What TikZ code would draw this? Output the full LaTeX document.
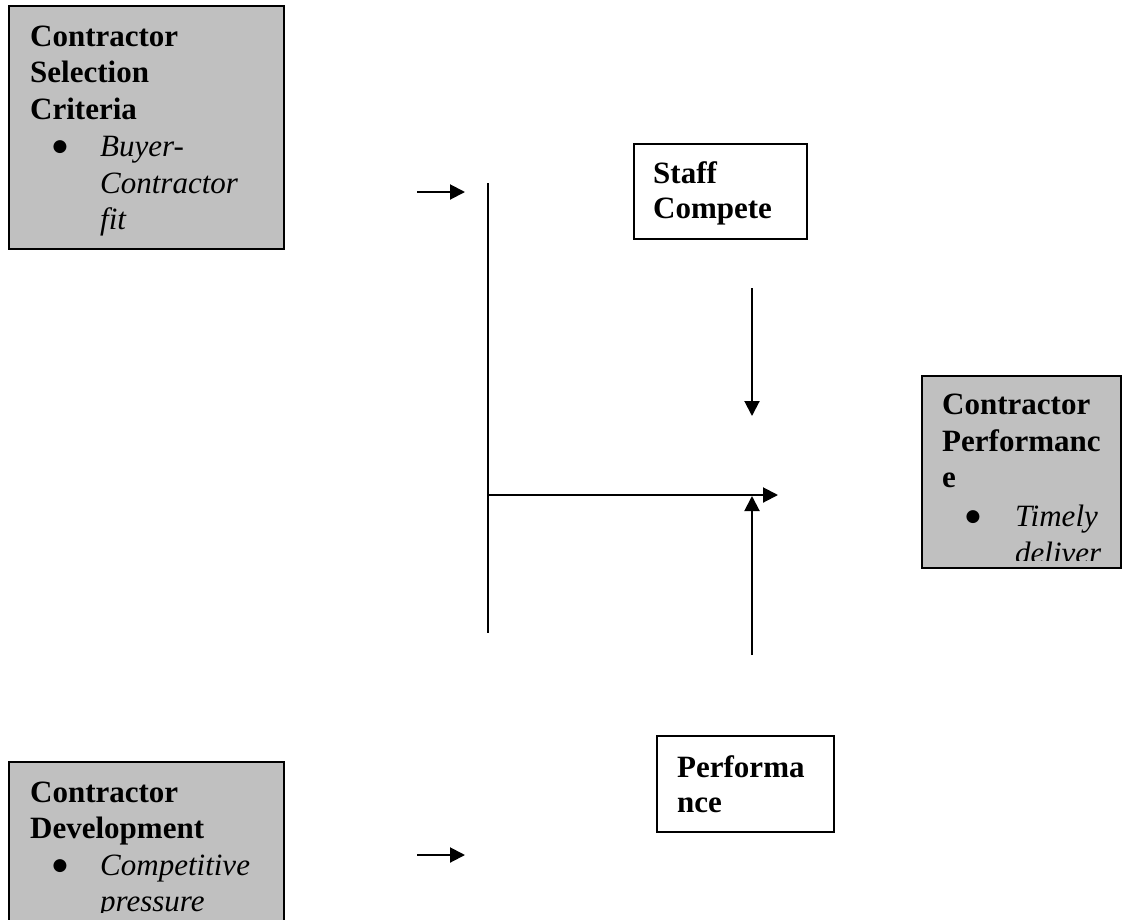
\documentclass[tikz,border=0pt]{standalone}
\usepackage{fontspec}
\setmainfont{Liberation Serif}
\newfontfamily\bulletfont{DejaVu Sans}
\usetikzlibrary{arrows.meta}
\definecolor{boxgrey}{RGB}{192,192,192}
\tikzset{
  greybox/.style={draw=black, line width=2pt, fill=boxgrey, anchor=north west, inner sep=0pt},
  whitebox/.style={draw=black, line width=2pt, fill=white, anchor=north west, inner sep=0pt},
  ttl/.style={anchor=base west, inner sep=0pt, font=\fontsize{31}{36}\selectfont\bfseries},
  itm/.style={anchor=base west, inner sep=0pt, font=\fontsize{31}{36}\selectfont\itshape},
  bul/.style={anchor=center, inner sep=0pt, font=\bulletfont\fontsize{17}{20}\selectfont},
  conn/.style={line width=2pt},
  arr/.style={conn, -{Triangle[length=15pt,width=15pt]}},
}
\begin{document}
\begin{tikzpicture}[x=1pt,y=-1pt]
\useasboundingbox (0,0) rectangle (1122,919);
\clip (0,0) rectangle (1122,919);

% --- Contractor Selection Criteria
\node[greybox, minimum width=275pt, minimum height=243pt] (sel) at (8,5) {};
\node[ttl] (sel1) at (30,46) {Contractor};
\node[ttl] (sel2) at (30,82.5) {Selection};
\node[ttl] (sel3) at (30,119) {Criteria};
\node[bul] (selb) at (60,147) {●};
\node[itm] (sel4) at (100,156) {Buyer-};
\node[itm] (sel5) at (100,193) {Contractor};
\node[itm] (sel6) at (100,229.5) {fit};

% --- Contractor Performance
\node[greybox, minimum width=199pt, minimum height=192pt] (perf) at (921,375) {};
\begin{scope}
  \clip (922,376) rectangle (1119,560);
  \node[ttl] (perf1) at (942,414) {Contractor};
  \node[ttl] (perf2) at (942,451) {Performanc};
  \node[ttl] (perf3) at (942,487) {e};
  \node[bul] (perfb) at (973,517) {●};
  \node[itm] (perf4) at (1015,526) {Timely};
  \node[itm] (perf5) at (1015,563) {deliver};
\end{scope}

% --- Contractor Development
\node[greybox, minimum width=275pt, minimum height=200pt] (dev) at (8,761) {};
\begin{scope}
  \clip (9,762) rectangle (282,912);
  \node[ttl] (dev1) at (30,802) {Contractor};
  \node[ttl] (dev2) at (30,838) {Development};
  \node[bul] (devb) at (60,866) {●};
  \node[itm] (dev3) at (100,875) {Competitive};
  \node[itm] (dev4) at (100,911) {pressure};
\end{scope}

% --- Staff Compete
\node[whitebox, minimum width=173pt, minimum height=95pt] (staff) at (633,143) {};
\node[ttl] (staff1) at (653,183) {Staff};
\node[ttl] (staff2) at (653,218) {Compete};

% --- Performance
\node[whitebox, minimum width=177pt, minimum height=96pt] (pf) at (656,735) {};
\node[ttl] (pf1) at (677,777) {Performa};
\node[ttl] (pf2) at (677,812) {nce};

% --- connectors
\coordinate (a1s) at (417,192);
\coordinate (a1e) at (465,192);
\coordinate (vt) at (488,183);
\coordinate (vb) at (488,633);
\coordinate (hs) at (488,495);
\coordinate (he) at (778,495);
\coordinate (ds) at (752,288);
\coordinate (de) at (752,416);
\coordinate (us) at (752,655);
\coordinate (ue) at (752,496);
\coordinate (a2s) at (417,855);
\coordinate (a2e) at (465,855);

\draw[arr] (a1s) -- (a1e);
\draw[conn] (vt) -- (vb);
\draw[arr] (hs) -- (he);
\draw[arr] (ds) -- (de);
\draw[arr] (us) -- (ue);
\draw[arr] (a2s) -- (a2e);
\end{tikzpicture}
\end{document}
